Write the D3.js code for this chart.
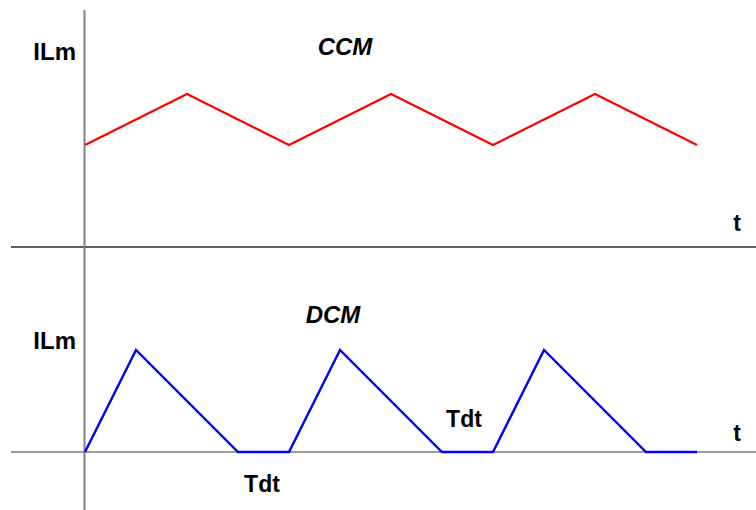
<!DOCTYPE html>
<html><head><meta charset="utf-8">
<script src="https://cdn.jsdelivr.net/npm/d3@7"></script>
<style>body{margin:0;background:#fff}svg{display:block}</style>
</head><body>
<script>
// Data (time in half-period units, current in relative units)
const ccmTime = [0, 1, 2, 3, 4, 5, 6];
const ccmCurrent = [1.0, 1.5, 1.0, 1.5, 1.0, 1.5, 1.0];
const dcmTime = [0, 0.5, 1.5, 2, 2.5, 3.5, 4, 4.5, 5.5, 6];
const dcmCurrent = [0, 1, 0, 0, 1, 0, 0, 1, 0, 0];
const titles = ["CCM", "DCM"];
const yLabel = "ILm";
const xLabel = "t";
const deadLabel = "Tdt";

const W = 756, H = 510;
const svg = d3.select("body").append("svg").attr("width", W).attr("height", H);

const x = d3.scaleLinear().domain([0, 6]).range([85, 697]);
const yTop = d3.scaleLinear().domain([0, 1.5]).range([247, 94]);
const yBot = d3.scaleLinear().domain([0, 1]).range([452, 350]);

// axes
svg.append("line").attr("x1", 11).attr("x2", W).attr("y1", yTop(0)).attr("y2", yTop(0))
  .attr("stroke", "#2a2a2a").attr("stroke-width", 1.6);
svg.append("line").attr("x1", 11).attr("x2", W).attr("y1", yBot(0)).attr("y2", yBot(0))
  .attr("stroke", "#7a7a7a").attr("stroke-width", 1.6);
svg.append("line").attr("x1", 84.5).attr("x2", 84.5).attr("y1", 10).attr("y2", H)
  .attr("stroke", "#808080").attr("stroke-width", 2);

const line = (ys) => d3.line().x(d => x(d[0])).y(d => ys(d[1]));

svg.append("path").datum(d3.zip(ccmTime, ccmCurrent))
  .attr("d", line(yTop)).attr("fill", "none").attr("stroke", "#ff0000").attr("stroke-width", 2.2);
svg.append("path").datum(d3.zip(dcmTime, dcmCurrent))
  .attr("d", line(yBot)).attr("fill", "none").attr("stroke", "#0000ff").attr("stroke-width", 2.4);

const font = "Liberation Sans, Arial, sans-serif";
function txt(s, xx, yy, opts = {}) {
  svg.append("text").attr("x", xx).attr("y", yy).text(s)
    .attr("font-family", font).attr("font-size", opts.size || 23)
    .attr("font-weight", "bold").attr("font-style", opts.italic ? "italic" : "normal")
    .attr("text-anchor", opts.anchor || "start").attr("fill", "#000");
}
txt(yLabel, 76, 60, {anchor: "end", size: 24});
txt(yLabel, 76, 349, {anchor: "end", size: 24});
txt(titles[0], 345, 55, {italic: true, size: 24, anchor: "middle"});
txt(titles[1], 333, 323, {italic: true, size: 24, anchor: "middle"});
txt(xLabel, 737, 231, {anchor: "middle"});
txt(xLabel, 737, 441, {anchor: "middle"});
txt(deadLabel, 464, 427, {anchor: "middle"});
txt(deadLabel, 262, 492, {anchor: "middle"});
</script>
</body></html>
